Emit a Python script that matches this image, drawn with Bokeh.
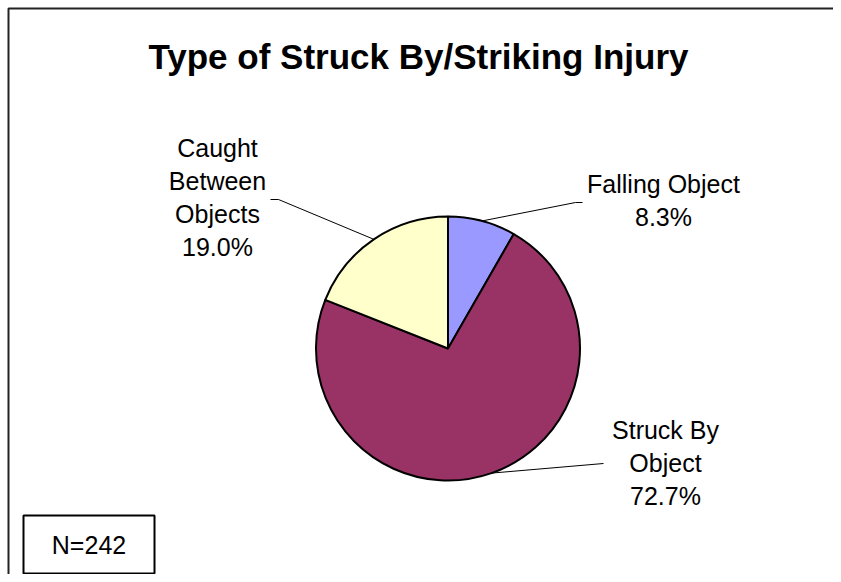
import math
from bokeh.plotting import figure
from bokeh.models import Range1d, ColumnDataSource
from bokeh.core.properties import value
from bokeh.embed import file_html
from bokeh.resources import INLINE

# ---- data ----
categories = ["Falling Object", "Struck By Object", "Caught Between Objects"]
percents = [8.3, 72.7, 19.0]
colors = ["#9999FF", "#993366", "#FFFFCC"]
label_lines = [["Falling Object", "8.3%"],
               ["Struck By", "Object", "72.7%"],
               ["Caught", "Between", "Objects", "19.0%"]]
title = "Type of Struck By/Striking Injury"
note = "N=242"

# ---- layout (image pixel coords: x right, y down) ----
W, H = 833, 574
def Y(yimg):
    return H - yimg

cx, cy, r = 447.5, Y(348), 132
label_pos = [(663, 183), (665, 429), (217, 147)]  # centre of first line
line_step = 33
leader_end = [[(575, 202), (582, 202)], [(603, 463)], [(278, 199), (270, 199)]]
FONT = value("Liberation Sans")

p = figure(width=W, height=H, output_backend="svg", toolbar_location=None,
           x_range=Range1d(0, W), y_range=Range1d(0, H),
           min_border=0, outline_line_color=None, background_fill_color="white",
           border_fill_color="white")
p.axis.visible = False
p.grid.visible = False

# chart border (top and left visible)
p.line([8, 8, W + 10], [Y(H + 10), Y(8), Y(8)], line_color="#222222", line_width=2)

# wedges clockwise from 12 o'clock
total = sum(percents)
starts, ends, mids = [], [], []
a = math.pi / 2
for v in percents:
    sweep = 2 * math.pi * v / total
    starts.append(a)
    ends.append(a - sweep)
    mids.append(a - sweep / 2)
    a -= sweep

src = ColumnDataSource(dict(start=starts, end=ends, color=colors, cat=categories))
p.wedge(x=cx, y=cy, radius=r, start_angle="start", end_angle="end", direction="clock",
        fill_color="color", line_color="black", line_width=2, source=src)

# leader lines
for m, ends_pts in zip(mids, leader_end):
    xs = [cx + r * math.cos(m)] + [e[0] for e in ends_pts]
    ys = [cy + r * math.sin(m)] + [Y(e[1]) for e in ends_pts]
    p.line(xs, ys, line_color="black", line_width=1)

# labels
for (lx, ly), lines in zip(label_pos, label_lines):
    for i, t in enumerate(lines):
        p.text(x=[lx], y=[Y(ly + i * line_step)], text=[t], text_font=FONT,
               text_font_size="25px", text_align="center", text_baseline="middle",
               text_color="black")

# title
p.text(x=[418], y=[Y(56)], text=[title], text_font=FONT, text_font_size="35px",
       text_font_style="bold", text_align="center", text_baseline="middle",
       text_color="black")

# N box
p.quad(left=23, right=154, bottom=Y(573), top=Y(515), fill_color="white",
       line_color="black", line_width=2)
p.text(x=[88.5], y=[Y(544)], text=[note], text_font=FONT, text_font_size="25px",
       text_align="center", text_baseline="middle", text_color="black")

open("out.html", "w").write(file_html(p, INLINE))
